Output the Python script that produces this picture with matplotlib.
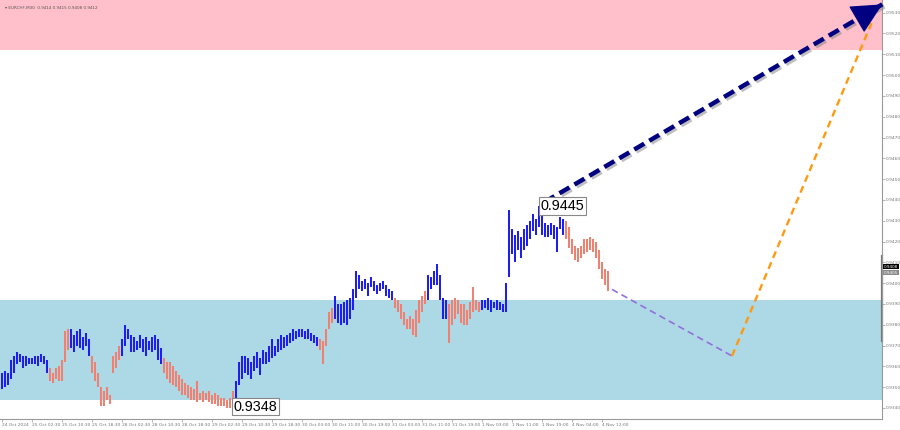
import matplotlib
matplotlib.use("Agg")
import matplotlib.pyplot as plt
import matplotlib.patheffects as pe
import numpy as np

# EURCHF M30 bars (highs / lows)
highs = [
    0.9357, 0.9358, 0.9357, 0.9363, 0.9365, 0.9367, 0.9366, 0.9365, 0.9365, 0.9364,
    0.9364, 0.9365, 0.9365, 0.9366, 0.9365, 0.9363, 0.9359, 0.9357, 0.9359, 0.9360,
    0.9363, 0.9377, 0.9378, 0.9378, 0.9375, 0.9377, 0.9378, 0.9374, 0.9376, 0.9373,
    0.9365, 0.9362, 0.9357, 0.9350, 0.9348, 0.9350, 0.9346, 0.9365, 0.9367, 0.9370,
    0.9373, 0.9380, 0.9378, 0.9375, 0.9374, 0.9372, 0.9375, 0.9373, 0.9374, 0.9372,
    0.9374, 0.9375, 0.9373, 0.9369, 0.9364, 0.9362, 0.9362, 0.9360, 0.9358, 0.9356,
    0.9354, 0.9352, 0.9351, 0.9350, 0.9349, 0.9353, 0.9347, 0.9348, 0.9347, 0.9348,
    0.9346, 0.9347, 0.9346, 0.9345, 0.9345, 0.9344, 0.9345, 0.9348, 0.9353, 0.9362,
    0.9365, 0.9365, 0.9364, 0.9362, 0.9365, 0.9367, 0.9364, 0.9368, 0.9367, 0.9370,
    0.9373, 0.9370, 0.9373, 0.9375, 0.9374, 0.9375, 0.9376, 0.9378, 0.9377, 0.9378,
    0.9378, 0.9377, 0.9378, 0.9376, 0.9375, 0.9374, 0.9373, 0.9372, 0.9378, 0.9386,
    0.9388, 0.9394, 0.9390, 0.9390, 0.9391, 0.9392, 0.9393, 0.9397, 0.9406, 0.9404,
    0.9401, 0.9402, 0.9400, 0.9403, 0.9401, 0.9399, 0.9400, 0.9401, 0.9399, 0.9397,
    0.9396, 0.9393, 0.9392, 0.9390, 0.9386, 0.9383, 0.9384, 0.9383, 0.9387, 0.9392,
    0.9394, 0.9396, 0.9404, 0.9403, 0.9406, 0.9409, 0.9404, 0.9393, 0.9392, 0.9390,
    0.9392, 0.9393, 0.9392, 0.9390, 0.9390, 0.9387, 0.9391, 0.9398, 0.9392, 0.9391,
    0.9392, 0.9392, 0.9393, 0.9392, 0.9391, 0.9392, 0.9391, 0.9390, 0.9400, 0.9435,
    0.9426, 0.9423, 0.9425, 0.9422, 0.9426, 0.9428, 0.9430, 0.9433, 0.9431, 0.9437,
    0.9433, 0.9429, 0.9428, 0.9429, 0.9428, 0.9427, 0.9432, 0.9431, 0.9430, 0.9427,
    0.9421, 0.9418, 0.9417, 0.9418, 0.9421, 0.9421, 0.9422, 0.9421, 0.9420, 0.9416,
    0.9410, 0.9407, 0.9406,
]
lows = [
    0.9349, 0.9350, 0.9351, 0.9354, 0.9357, 0.9361, 0.9362, 0.9359, 0.9360, 0.9361,
    0.9361, 0.9361, 0.9360, 0.9362, 0.9361, 0.9357, 0.9353, 0.9352, 0.9354, 0.9353,
    0.9353, 0.9362, 0.9368, 0.9369, 0.9367, 0.9370, 0.9369, 0.9368, 0.9370, 0.9365,
    0.9357, 0.9353, 0.9350, 0.9341, 0.9341, 0.9344, 0.9342, 0.9357, 0.9359, 0.9363,
    0.9365, 0.9370, 0.9373, 0.9367, 0.9367, 0.9368, 0.9369, 0.9367, 0.9365, 0.9368,
    0.9367, 0.9368, 0.9363, 0.9361, 0.9357, 0.9354, 0.9352, 0.9351, 0.9350, 0.9348,
    0.9346, 0.9346, 0.9345, 0.9344, 0.9344, 0.9343, 0.9344, 0.9343, 0.9344, 0.9343,
    0.9342, 0.9342, 0.9341, 0.9341, 0.9341, 0.9340, 0.9340, 0.9341, 0.9345, 0.9351,
    0.9354, 0.9357, 0.9356, 0.9354, 0.9358, 0.9359, 0.9356, 0.9361, 0.9361, 0.9362,
    0.9364, 0.9365, 0.9367, 0.9368, 0.9369, 0.9370, 0.9371, 0.9372, 0.9373, 0.9374,
    0.9374, 0.9373, 0.9373, 0.9372, 0.9371, 0.9370, 0.9368, 0.9361, 0.9370, 0.9378,
    0.9381, 0.9383, 0.9381, 0.9380, 0.9381, 0.9380, 0.9383, 0.9387, 0.9393, 0.9397,
    0.9396, 0.9397, 0.9394, 0.9398, 0.9396, 0.9395, 0.9396, 0.9397, 0.9394, 0.9393,
    0.9392, 0.9388, 0.9386, 0.9383, 0.9380, 0.9378, 0.9378, 0.9375, 0.9374, 0.9381,
    0.9386, 0.9390, 0.9392, 0.9397, 0.9399, 0.9399, 0.9392, 0.9383, 0.9383, 0.9371,
    0.9380, 0.9383, 0.9385, 0.9381, 0.9380, 0.9380, 0.9383, 0.9386, 0.9387, 0.9386,
    0.9387, 0.9388, 0.9387, 0.9386, 0.9388, 0.9387, 0.9387, 0.9386, 0.9386, 0.9403,
    0.9414, 0.9410, 0.9416, 0.9412, 0.9416, 0.9418, 0.9421, 0.9425, 0.9423, 0.9427,
    0.9423, 0.9422, 0.9422, 0.9423, 0.9421, 0.9415, 0.9426, 0.9423, 0.9421, 0.9417,
    0.9414, 0.9411, 0.9410, 0.9412, 0.9414, 0.9415, 0.9416, 0.9415, 0.9412, 0.9407,
    0.9402, 0.9399, 0.9396,
]
# wave colouring: (colour, number of bars)
wave_runs = [("up", 16), ("down", 7), ("up", 7), ("down", 10), ("up", 14),
             ("down", 24), ("up", 28), ("down", 5), ("up", 20), ("down", 11),
             ("up", 7), ("down", 11), ("up", 28), ("down", 15)]

time_labels = ["24 Oct 2024", "25 Oct 02:30", "25 Oct 10:30", "25 Oct 18:30",
               "28 Oct 02:30", "28 Oct 10:30", "28 Oct 18:30", "29 Oct 02:30",
               "29 Oct 10:30", "29 Oct 18:30", "30 Oct 03:00", "30 Oct 11:00",
               "30 Oct 19:00", "31 Oct 03:00", "31 Oct 11:00", "31 Oct 19:00",
               "1 Nov 03:00", "1 Nov 11:00", "1 Nov 19:00", "4 Nov 04:00",
               "4 Nov 12:00"]
bars_per_label = 10

# zones
resist_zone = (0.9512, 0.9540)
support_zone = (0.9344, 0.9392)

# forecast path (bar index, price)
forecast_main = ([181, 293.6], [0.9439, 0.9534])
forecast_alt_x = [203.5, 243.5, 290]
forecast_alt_p = [0.9397, 0.9365, 0.9525]

low_label = (77.5, 0.9344, "0.9348")
high_label = (179.8, 0.9437, "0.9445")

up_col = "#1e1ef0"
down_col = "#f08070"

fig = plt.figure(figsize=(9, 4.3), dpi=100)
ax = fig.add_axes([0, 11 / 430, 882 / 900, 419 / 430])

ax.set_xlim(-0.5, 293.5)
ax.set_ylim(0.93347, 0.95361)

ax.axhspan(*resist_zone, color="#ffc0cb", lw=0, zorder=0)
ax.axhspan(*support_zone, color="#add8e6", lw=0, zorder=0)

cols = []
for kind, n in wave_runs:
    cols += [up_col if kind == "up" else down_col] * n
x = np.arange(len(highs))
ax.vlines(x, lows, highs, colors=cols, lw=1.45, zorder=2)

# forecast lines
ax.plot(forecast_alt_x[:2], forecast_alt_p[:2], color="#9370db", lw=1.2,
        dashes=(4, 2.5), zorder=3)
ax.plot(forecast_alt_x[1:], forecast_alt_p[1:], color="#ff9a10", lw=1.7,
        dashes=(3, 2), zorder=3)
fx, fp = forecast_main
ax.plot(fx, fp, color="#000080", lw=3.2, dashes=(2.6, 1.3), zorder=4,
        solid_capstyle="butt", clip_on=False,
        path_effects=[pe.SimpleLineShadow(offset=(1.5, -1.5), shadow_color="gray", alpha=0.5),
                      pe.Normal()])
ax.annotate("", xy=(fx[1], fp[1]),
            xytext=(fx[1] - (fx[1] - fx[0]) * 0.06, fp[1] - (fp[1] - fp[0]) * 0.06),
            arrowprops=dict(arrowstyle="-|>,head_length=0.9,head_width=0.45",
                            color="#000080", lw=1, mutation_scale=22,
                            shrinkA=0, shrinkB=0),
            annotation_clip=False, zorder=5)

box = dict(boxstyle="square,pad=0.12", fc="white", ec="#888888", lw=0.8)
ax.text(low_label[0], low_label[1], low_label[2], fontsize=10.4, ha="left",
        va="top", bbox=box, zorder=6, family="Liberation Sans")
ax.text(high_label[0], high_label[1], high_label[2], fontsize=10.4, ha="left",
        va="center", bbox=box, zorder=6, family="Liberation Sans")

# header
ax.text(0.006, 0.985, "\u25be EURCHF,M30  0.9414 0.9415 0.9408 0.9412",
        transform=ax.transAxes, fontsize=3.0, color="#555555", va="top")

# axes styling
for side in ["left", "top"]:
    ax.spines[side].set_visible(False)
for side in ["right", "bottom"]:
    ax.spines[side].set_color("#999999")
    ax.spines[side].set_linewidth(0.8)

yt = np.round(np.arange(0.9340, 0.95301, 0.001), 4)
ax.yaxis.tick_right()
ax.set_yticks(yt)
ax.set_yticklabels([f"{v:.4f}" for v in yt])
ax.tick_params(axis="y", labelsize=3.2, labelcolor="#777777", color="#999999",
               length=2, width=0.5, pad=1)

xt = np.arange(len(time_labels)) * bars_per_label
ax.set_xticks(xt)
ax.set_xticklabels(time_labels, ha="left")
ax.tick_params(axis="x", labelsize=3.2, labelcolor="#777777", color="#999999",
               length=2, width=0.5, pad=1)

# current price markers on the scale
ax.text(1.002, 0.9408, "0.9408", transform=ax.get_yaxis_transform(), fontsize=3.0,
        color="white", va="center", ha="left",
        bbox=dict(boxstyle="square,pad=0.15", fc="black", ec="none"))
ax.text(1.002, 0.9405, "0.9405", transform=ax.get_yaxis_transform(), fontsize=3.0,
        color="white", va="center", ha="left",
        bbox=dict(boxstyle="square,pad=0.15", fc="#888888", ec="none"))
ax.plot([1, 1], [0.9372, 0.9413], transform=ax.get_yaxis_transform(),
        color="#777777", lw=1.6, clip_on=False)

fig.savefig("out.png", dpi=100)
